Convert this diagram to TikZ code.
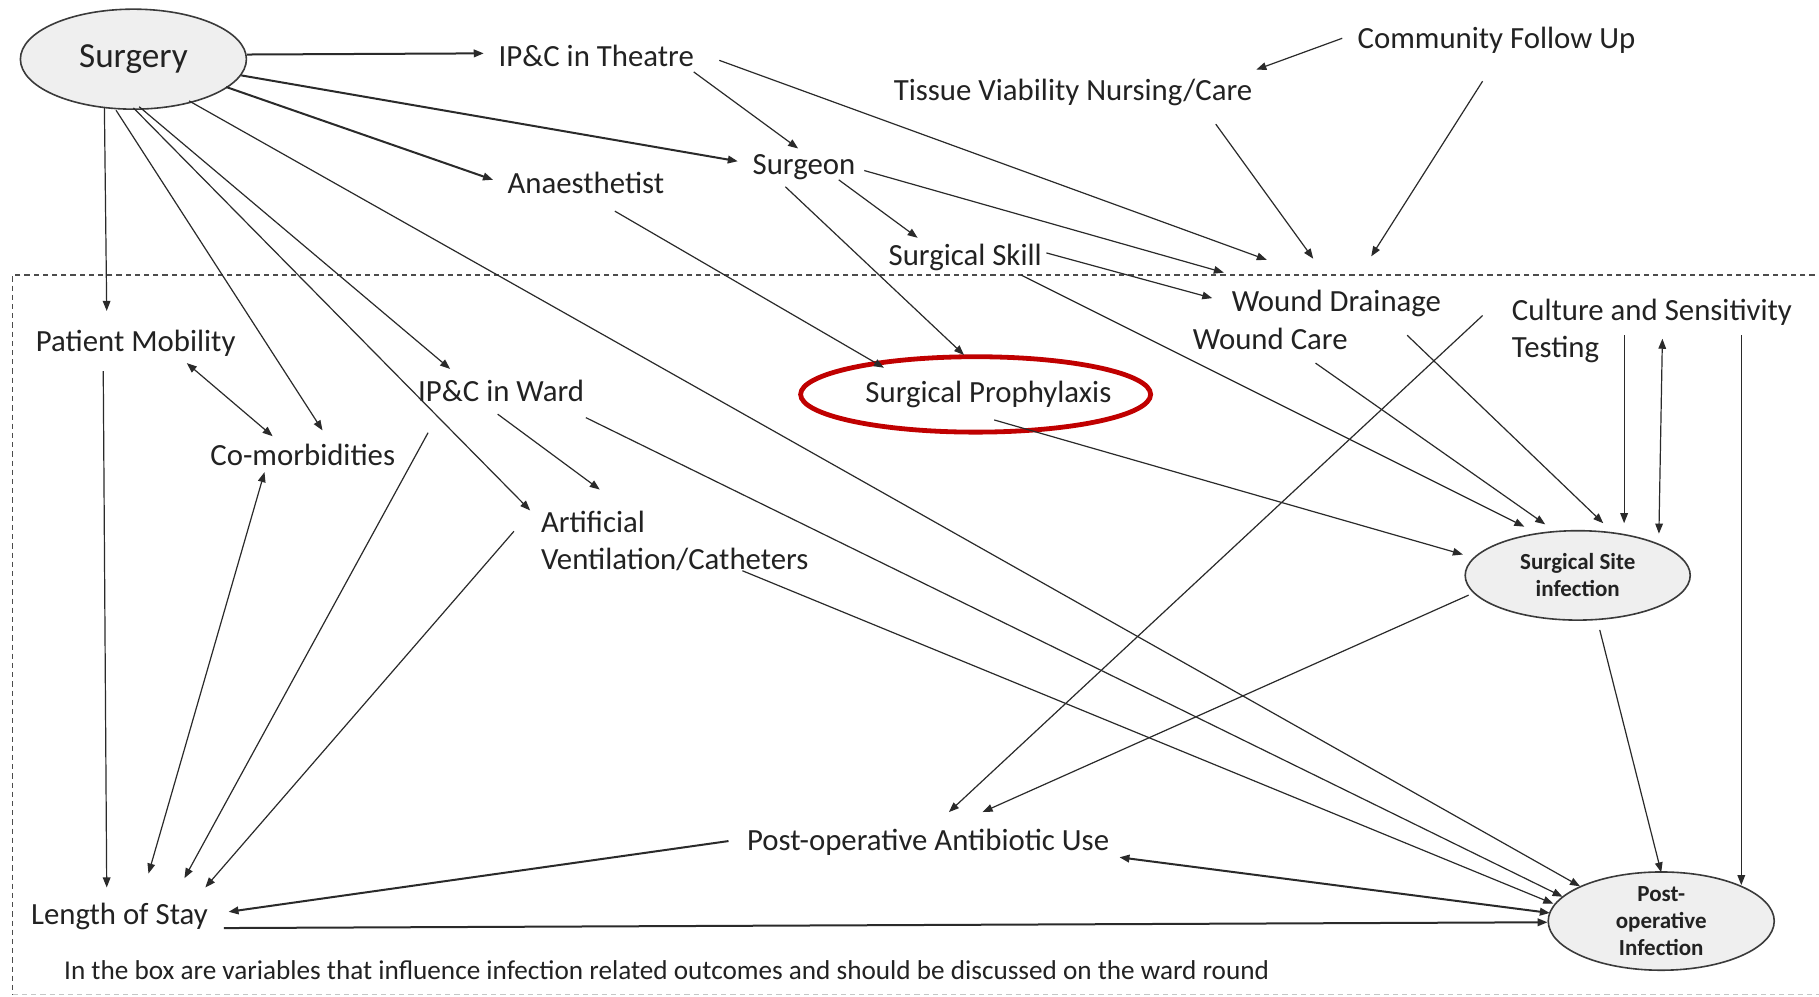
\documentclass[tikz,border=0pt]{standalone}
\usepackage{fontspec}
\setmainfont{Carlito}
\usetikzlibrary{arrows.meta,shapes.geometric}
\definecolor{ink}{HTML}{222222}
\definecolor{lineg}{HTML}{2A2A2A}
\definecolor{ellfill}{HTML}{EFEFEF}
\definecolor{ellline}{HTML}{3A3A3A}
\definecolor{propred}{HTML}{C00000}
\begin{document}
\begin{tikzpicture}[x=0.58pt,y=-0.58pt,
  lbl/.style={inner sep=0pt,text=ink,font=\fontsize{15.4}{18.5}\selectfont},
  lbl2/.style={lbl,align=left,anchor=west},
  oval/.style={ellipse,draw=ellline,fill=ellfill,line width=0.8pt,inner sep=0pt,text=ink,align=center,font=\bfseries\fontsize{11.5}{13.6}\selectfont},
  arr/.style={draw=lineg,line width=0.6pt,-{Triangle[length=5pt,width=3.8pt]}},
  arrb/.style={arr,line width=1pt},
  dbl/.style={draw=lineg,line width=0.6pt,{Triangle[length=5pt,width=3.8pt]}-{Triangle[length=5pt,width=3.8pt]}},
  dblb/.style={dbl,line width=1pt},
  ln/.style={draw=lineg,line width=0.6pt}]
\useasboundingbox (0,0) rectangle (1568,859);
\fill[white] (0,0) rectangle (1568,859);
% dashed box
\draw[gray!60!black,line width=0.6pt,dash pattern=on 2.6pt off 2pt] (1580,237) -- (11,237) -- (11,857);
\draw[gray!45,line width=0.5pt,dash pattern=on 2.6pt off 2pt] (11,857) -- (1580,857);
% nodes
\node[oval,minimum width=113pt,minimum height=50pt,font=\fontsize{17.6}{20}\selectfont] (surgery) at (115,51) {Surgery};
\node[lbl] (theatre) at (514,48) {IP\&C in Theatre};
\node[lbl] (community) at (1290,35) {Community Follow Up};
\node[lbl] (tissue) at (925,80) {Tissue Viability Nursing/Care};
\node[lbl] (surgeon) at (693,144) {Surgeon};
\node[lbl] (anaes) at (505,158) {Anaesthetist};
\node[lbl] (skill) at (832,222) {Surgical Skill};
\node[lbl] (drainage) at (1152,262) {Wound Drainage};
\node[lbl] (woundcare) at (1095,292) {Wound Care};
\node[lbl2] (culture) at (1303,285) {Culture and Sensitivity\\Testing};
\node[lbl] (mobility) at (117,296) {Patient Mobility};
\node[lbl] (ward) at (432,337) {IP\&C in Ward};
\node[ellipse,draw=propred,line width=2.4pt,minimum width=175pt,minimum height=37.7pt,inner sep=0pt,text=ink,font=\fontsize{15.4}{18.5}\selectfont] (proph) at (841,340) {\makebox[0pt]{\hspace*{12.8pt}Surgical Prophylaxis}};
\node[lbl] (comorb) at (261,392) {Co-morbidities};
\node[lbl2] (art) at (466,466) {Artificial\\Ventilation/Catheters};
\node[oval,minimum width=112.5pt,minimum height=44.7pt] (ssi) at (1360,496) {Surgical Site\\infection};
\node[lbl] (antibiotic) at (800,726) {Post-operative Antibiotic Use};
\node[lbl] (los) at (103,790) {Length of Stay};
\node[oval,minimum width=113pt,minimum height=47.6pt] (postop) at (1432,794) {Post-\\operative\\Infection};
\node[lbl,anchor=west,font=\fontsize{13.6}{15}\selectfont] (note) at (55,836) {In the box are variables that influence infection related outcomes and should be discussed on the ward round};
% free ends above the box
\coordinate (c1) at (1092,224);
\coordinate (c2) at (1055,235);
\coordinate (c3) at (1132,223);
\coordinate (c4) at (1182,221);
% connectors from Surgery
\draw[arrb] ([shift={(98,-4)}]surgery.center) -- ([shift={(-97,-2)}]theatre.center);
\draw[arrb] ([shift={(93,14)}]surgery.center) -- ([shift={(-57,-5)}]surgeon.center);
\draw[arrb] ([shift={(80,24)}]surgery.center) -- ([shift={(-80,-3)}]anaes.center);
\draw[arr] ([shift={(-25,42)}]surgery.center) -- ([shift={(-25,-28)}]mobility.center);
\draw[arr] ([shift={(-15,44)}]surgery.center) -- ([shift={(17,-21)}]comorb.center);
\draw[arr] ([shift={(0,42)}]surgery.center) -- ([shift={(-9,-26)}]art.west);
\draw[arr] ([shift={(5,41)}]surgery.center) -- ([shift={(-44,-19)}]ward.center);
\draw[arr] ([shift={(48,36)}]surgery.center) -- ([shift={(-70,-30)}]postop.center);
% upper part
\draw[arr] ([shift={(84,14)}]theatre.center) -- ([shift={(-5,-16)}]surgeon.center);
\draw[arr] ([shift={(106,4)}]theatre.center) -- (c1);
\draw[arr] ([shift={(-133,-2)}]community.center) -- ([shift={(158,-20)}]tissue.center);
\draw[arr] ([shift={(123,27)}]tissue.center) -- (c3);
\draw[arr] ([shift={(-12,35)}]community.center) -- (c4);
\draw[arr] ([shift={(52,3)}]surgeon.center) -- (c2);
\draw[arr] ([shift={(30,11)}]surgeon.center) -- ([shift={(-41,-17)}]skill.center);
\draw[arr] ([shift={(-16,17)}]surgeon.center) -- ([shift={(-10,-34)}]proph.center);
\draw[arr] ([shift={(25,24)}]anaes.center) -- ([shift={(-79,-23)}]proph.center);
\draw[arr] ([shift={(70,-4)}]skill.center) -- ([shift={(-107,-5)}]drainage.center);
\draw[arr] ([shift={(48,15)}]skill.center) -- ([shift={(-46,-42)}]ssi.center);
% into Surgical Site infection
\draw[arr] ([shift={(39,21)}]woundcare.center) -- ([shift={(-28,-44)}]ssi.center);
\draw[arr] ([shift={(61,27)}]drainage.center) -- ([shift={(22,-45)}]ssi.center);
\draw[arr] ([shift={(97,4)}]culture.west) -- ([shift={(40,-45)}]ssi.center);
\draw[dbl] ([shift={(130,7)}]culture.west) -- ([shift={(70,-36)}]ssi.center);
\draw[arr] ([shift={(16,22)}]proph.center) -- ([shift={(-99,-18)}]ssi.center);
% culture to others
\draw[arr] ([shift={(198,4)}]culture.west) -- ([shift={(69,-31)}]postop.center);
\draw[arr] ([shift={(-25,-13)}]culture.west) -- ([shift={(18,-26)}]antibiotic.center);
% out of Surgical Site infection
\draw[arr] ([shift={(-94,17)}]ssi.center) -- ([shift={(47,-26)}]antibiotic.center);
\draw[arr] ([shift={(19,47)}]ssi.center) -- ([shift={(0,-42)}]postop.center);
% into Post-operative Infection
\draw[arr] ([shift={(73,23)}]ward.center) -- ([shift={(-85,-21)}]postop.center);
\draw[arr] ([shift={(174,26)}]art.west) -- ([shift={(-93,-15)}]postop.center);
\draw[dblb] ([shift={(165,13)}]antibiotic.center) -- ([shift={(-96,-7)}]postop.center);
\draw[arrb] ([shift={(90,10)}]los.center) -- ([shift={(-98,1)}]postop.center);
% into Length of Stay
\draw[arrb] ([shift={(-172,-1)}]antibiotic.center) -- ([shift={(94,-4)}]los.center);
\draw[dbl] ([shift={(44,17)}]mobility.center) -- ([shift={(-26,-16)}]comorb.center);
\draw[arr] ([shift={(-28,24)}]mobility.center) -- ([shift={(-11,-25)}]los.center);
\draw[dbl] ([shift={(25,-37)}]los.center) -- ([shift={(-33,15)}]comorb.center);
\draw[arr] ([shift={(-63,36)}]ward.center) -- ([shift={(56,-33)}]los.center);
\draw[arr] ([shift={(-3,20)}]ward.center) -- ([shift={(51,-44)}]art.west);
\draw[arr] ([shift={(-23,-8)}]art.west) -- ([shift={(74,-25)}]los.center);
\end{tikzpicture}
\end{document}
